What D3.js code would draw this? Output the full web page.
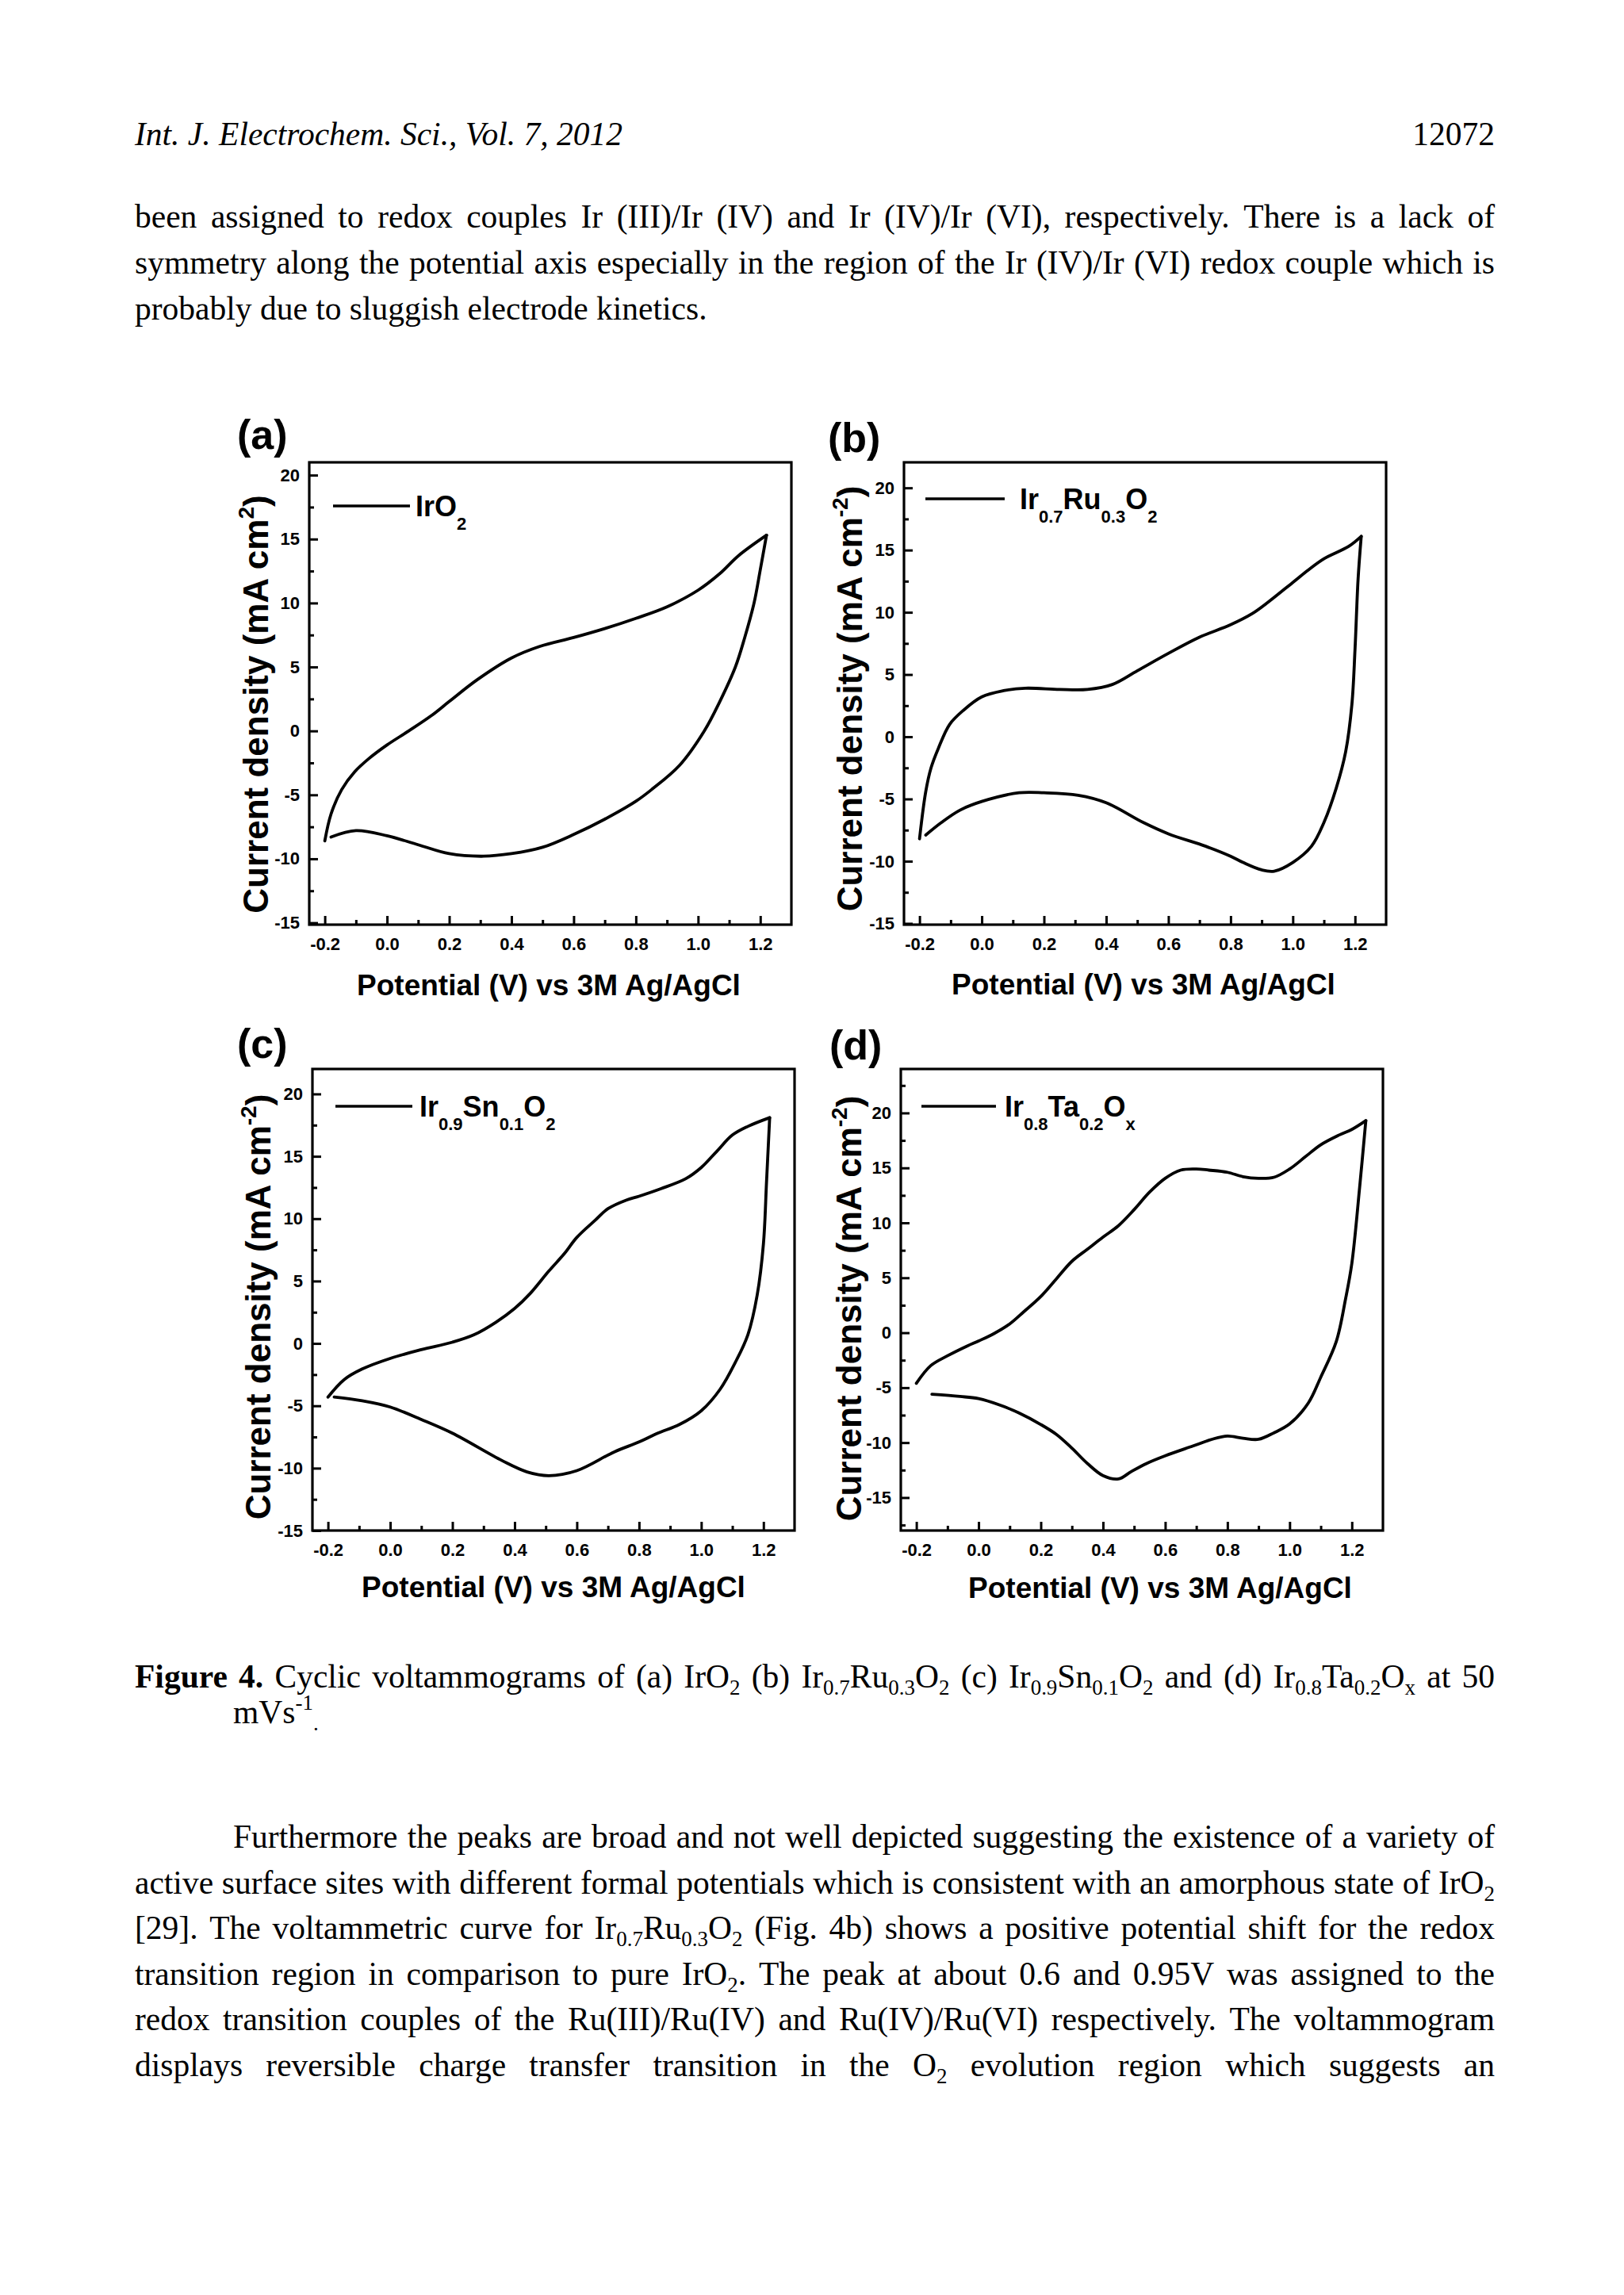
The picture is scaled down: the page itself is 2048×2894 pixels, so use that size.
<!DOCTYPE html>
<html>
<head>
<meta charset="utf-8">
<script src="https://cdn.jsdelivr.net/npm/d3@7"></script>
<style>
  html, body { margin: 0; padding: 0; background: #fff; }
  svg { display: block; }
</style>
</head>
<body>
<svg id="page" width="2048" height="2894"></svg>
<script>
// ---- chart values ----
const xDomain = [-0.25, 1.30];
const xTicks = [-0.2, 0.0, 0.2, 0.4, 0.6, 0.8, 1.0, 1.2];
const xMinor = [-0.1, 0.1, 0.3, 0.5, 0.7, 0.9, 1.1];
const yTicks = [20, 15, 10, 5, 0, -5, -10, -15];
const yMinor = [22.5, 17.5, 12.5, 7.5, 2.5, -2.5, -7.5, -12.5, -17.5];

const yDomainA = [-15.15, 21];
const yDomainB = [-15.1, 22.05];
const yDomainC = [-15, 22];
const yDomainD = [-18, 24];

// (a) IrO2
const irO2Fwd = [[-0.2,-8.6],[-0.18,-6.5],[-0.146,-4.6],[-0.104,-3.2],[-0.06,-2.2],[0,-1.1],[0.07,0],[0.143,1.2],[0.2,2.3],[0.29,4.0],[0.4,5.7],[0.49,6.6],[0.6,7.3],[0.7,8.0],[0.8,8.8],[0.9,9.7],[1.0,11.0],[1.07,12.3],[1.13,13.7],[1.22,15.3]];
const irO2Rev = [[1.22,15.3],[1.2,12.6],[1.18,10.0],[1.15,7.3],[1.12,5.0],[1.07,2.3],[1.02,0],[0.94,-2.7],[0.85,-4.6],[0.8,-5.5],[0.7,-6.9],[0.6,-8.1],[0.5,-9.1],[0.4,-9.6],[0.31,-9.8],[0.2,-9.6],[0.1,-8.9],[0,-8.2],[-0.1,-7.8],[-0.18,-8.3]];

// (b) Ir0.7Ru0.3O2
const irRuFwd = [[-0.2,-8.2],[-0.18,-4.4],[-0.163,-2.5],[-0.139,-0.9],[-0.103,1.0],[-0.06,2.1],[0,3.2],[0.07,3.7],[0.14,3.9],[0.25,3.8],[0.34,3.8],[0.42,4.2],[0.5,5.3],[0.6,6.7],[0.7,8.0],[0.8,9.0],[0.87,9.9],[0.92,10.8],[1.0,12.4],[1.05,13.4],[1.1,14.3],[1.18,15.3],[1.22,16.1]];
const irRuRev = [[1.22,16.1],[1.21,12.7],[1.2,7.0],[1.19,2.6],[1.17,-1.2],[1.14,-4.1],[1.1,-6.9],[1.06,-8.8],[1.0,-10.1],[0.94,-10.8],[0.9,-10.7],[0.84,-10.1],[0.8,-9.6],[0.72,-8.8],[0.6,-7.8],[0.52,-6.9],[0.4,-5.3],[0.31,-4.7],[0.2,-4.5],[0.12,-4.5],[0,-5.2],[-0.07,-5.9],[-0.13,-6.9],[-0.18,-7.9]];

// (c) Ir0.9Sn0.1O2
const irSnFwd = [[-0.2,-4.3],[-0.148,-2.9],[-0.09,-2.05],[0,-1.2],[0.1,-0.5],[0.2,0.1],[0.27,0.7],[0.34,1.7],[0.4,2.8],[0.45,4.0],[0.51,5.8],[0.56,7.2],[0.6,8.5],[0.66,9.9],[0.7,10.8],[0.76,11.5],[0.8,11.8],[0.87,12.4],[0.95,13.2],[1.0,14.1],[1.05,15.4],[1.1,16.7],[1.15,17.4],[1.22,18.1]];
const irSnRev = [[1.22,18.1],[1.21,13.0],[1.2,8.0],[1.18,3.9],[1.15,0.7],[1.11,-1.5],[1.06,-3.7],[1.0,-5.4],[0.93,-6.5],[0.86,-7.2],[0.8,-7.9],[0.72,-8.7],[0.6,-10.2],[0.51,-10.6],[0.44,-10.3],[0.36,-9.4],[0.2,-7.2],[0.1,-6.1],[0,-5.1],[-0.09,-4.6],[-0.18,-4.3]];

// (d) Ir0.8Ta0.2Ox
const irTaFwd = [[-0.2,-4.6],[-0.154,-3.0],[-0.1,-2.1],[-0.036,-1.2],[0,-0.75],[0.048,-0.1],[0.1,0.8],[0.145,1.9],[0.2,3.3],[0.25,4.9],[0.3,6.5],[0.35,7.6],[0.4,8.7],[0.45,9.75],[0.5,11.2],[0.55,12.8],[0.6,14.05],[0.65,14.8],[0.7,14.9],[0.74,14.8],[0.8,14.6],[0.85,14.2],[0.9,14.05],[0.95,14.15],[1.0,14.9],[1.05,16.0],[1.1,17.1],[1.16,18.0],[1.2,18.5],[1.245,19.3]];
const irTaRev = [[1.245,19.3],[1.225,13.2],[1.2,6.3],[1.18,3.1],[1.15,-0.8],[1.1,-4.05],[1.06,-6.4],[1.0,-8.3],[0.95,-9.1],[0.9,-9.7],[0.85,-9.6],[0.8,-9.4],[0.75,-9.7],[0.69,-10.3],[0.6,-11.2],[0.54,-11.9],[0.49,-12.65],[0.45,-13.3],[0.4,-13.0],[0.35,-11.9],[0.3,-10.5],[0.25,-9.25],[0.2,-8.35],[0.13,-7.3],[0.07,-6.6],[0,-6.0],[-0.06,-5.8],[-0.15,-5.6]];

const legendNames = ["IrO_{2}", "Ir_{0.7}Ru_{0.3}O_{2}", "Ir_{0.9}Sn_{0.1}O_{2}", "Ir_{0.8}Ta_{0.2}O_{x}"];
const panelTags = ["(a)", "(b)", "(c)", "(d)"];
const unitExps = ["2", "-2", "-2", "-2"];
const xTitle = "Potential (V) vs 3M Ag/AgCl";

// ---- page text ----
const headerLeft = "Int. J. Electrochem. Sci., Vol. 7, 2012";
const headerRight = "12072";
const para1 = [
  "been assigned to redox couples Ir (III)/Ir (IV) and Ir (IV)/Ir (VI), respectively. There is a lack of",
  "symmetry along the potential axis especially in the region of the Ir (IV)/Ir (VI) redox couple which is",
  "probably due to sluggish electrode kinetics."
];
const caption = [
  "!{Figure} !{4.} Cyclic voltammograms of (a) IrO_{2} (b) Ir_{0.7}Ru_{0.3}O_{2} (c) Ir_{0.9}Sn_{0.1}O_{2} and (d) Ir_{0.8}Ta_{0.2}O_{x} at 50",
  "mVs^{-1}_{.}"
];
const para2 = [
  "Furthermore the peaks are broad and not well depicted suggesting the existence of a variety of",
  "active surface sites with different formal potentials which is consistent with an amorphous state of IrO_{2}",
  "[29]. The voltammetric curve for Ir_{0.7}Ru_{0.3}O_{2} (Fig. 4b) shows a positive potential shift for the redox",
  "transition region in comparison to pure IrO_{2}. The peak at about 0.6 and 0.95V was assigned to the",
  "redox transition couples of the Ru(III)/Ru(IV) and Ru(IV)/Ru(VI) respectively. The voltammogram",
  "displays reversible charge transfer transition in the O_{2} evolution region which suggests an"
];

// ---- layout ----
const SERIF = "'Liberation Serif', 'Times New Roman', serif";
const SANS = "'Liberation Sans', Arial, sans-serif";

const panels = [
  {fwd: irO2Fwd, rev: irO2Rev, yDomain: yDomainA, box: [390, 583, 998, 1166],
   tag: [299, 566], ylab: [338, 888], xlab: [692, 1255], leg: [30, 127, 134, 55]},
  {fwd: irRuFwd, rev: irRuRev, yDomain: yDomainB, box: [1140, 583, 1748, 1166],
   tag: [1044, 570], ylab: [1087, 881], xlab: [1442, 1254], leg: [27, 127, 146, 46]},
  {fwd: irSnFwd, rev: irSnRev, yDomain: yDomainC, box: [394, 1348, 1002, 1930],
   tag: [299, 1334], ylab: [341, 1648], xlab: [698, 2014], leg: [29, 126, 135, 47]},
  {fwd: irTaFwd, rev: irTaRev, yDomain: yDomainD, box: [1136, 1348, 1744, 1930],
   tag: [1046, 1336], ylab: [1086, 1650], xlab: [1463, 2015], leg: [26, 120, 131, 47]}
];

const svg = d3.select("#page");
svg.append("rect").attr("width", 2048).attr("height", 2894).attr("fill", "#fff");

function parseWord(w) {
  const segs = [];
  const re = /_\{([^}]*)\}|\^\{([^}]*)\}|!\{([^}]*)\}|([^_^!]+|[_^!])/g;
  let m;
  while ((m = re.exec(w))) {
    if (m[1] !== undefined) segs.push({t: m[1], sub: true});
    else if (m[2] !== undefined) segs.push({t: m[2], sup: true});
    else if (m[3] !== undefined) segs.push({t: m[3], bold: true});
    else segs.push({t: m[4]});
  }
  return segs;
}

// write segments into a text element, sub/sup by dy shifts
function fillSegs(t, segs, size, subSize, subDy, supDy) {
  let shift = 0;
  segs.forEach(s => {
    const want = s.sub ? subDy : s.sup ? supDy : 0;
    t.append("tspan")
      .attr("dy", want - shift)
      .attr("font-size", (s.sub || s.sup) ? subSize : size)
      .attr("font-weight", s.bold ? "bold" : null)
      .text(s.t);
    shift = want;
  });
}

function textLine(str, o) {
  const words = str.split(/ +/).filter(w => w.length).map(parseWord);
  const g = svg.append("g")
    .attr("font-family", SERIF)
    .attr("font-size", o.size)
    .attr("font-style", o.italic ? "italic" : null)
    .attr("fill", "#000");
  const nodes = words.map(segs => {
    const t = g.append("text").attr("y", o.y);
    fillSegs(t, segs, o.size, o.size * 0.65, o.size * 0.22, -o.size * 0.4);
    return t;
  });
  const widths = nodes.map(t => t.node().getComputedTextLength());
  const total = d3.sum(widths);
  let gap = o.size * 0.25;
  if (o.justify && nodes.length > 1) gap = (o.x1 - o.x0 - total) / (nodes.length - 1);
  let x = o.anchor === "end" ? o.x1 - total - gap * (nodes.length - 1) : o.x0;
  nodes.forEach((t, i) => { t.attr("x", x); x += widths[i] + gap; });
}

// header + first paragraph
const TS = 41.5, L = 170, R = 1885;
textLine(headerLeft, {x0: L, x1: R, y: 183, size: TS, italic: true});
textLine(headerRight, {x0: L, x1: R, y: 183, size: TS, anchor: "end"});
para1.forEach((s, i) => textLine(s, {x0: L, x1: R, y: 287 + i * 58, size: TS, justify: i < para1.length - 1}));

// caption
textLine(caption[0], {x0: L, x1: R, y: 2128, size: TS, justify: true});
textLine(caption[1], {x0: 294, x1: R, y: 2173, size: TS});

// last paragraph
para2.forEach((s, i) => textLine(s, {x0: i === 0 ? 294 : L, x1: R, y: 2330 + i * 57.6, size: TS, justify: true}));

// ---- the four voltammograms ----
panels.forEach((p, k) => {
  const [x0, y0, x1, y1] = p.box;
  const x = d3.scaleLinear().domain(xDomain).range([x0, x1]);
  const y = d3.scaleLinear().domain(p.yDomain).range([y1, y0]);
  const g = svg.append("g").attr("font-family", SANS).attr("fill", "#000");

  // inward major + minor ticks
  const xAxis = g.append("g").attr("transform", `translate(0,${y1})`)
    .call(d3.axisBottom(x).tickValues(xTicks).tickSize(-11).tickPadding(16).tickFormat(d => d.toFixed(1)));
  const xAxisMinor = g.append("g").attr("transform", `translate(0,${y1})`)
    .call(d3.axisBottom(x).tickValues(xMinor).tickSize(-6).tickFormat(""));
  const yVis = yTicks.filter(v => v >= p.yDomain[0] && v <= p.yDomain[1]);
  const yMin = yMinor.filter(v => v >= p.yDomain[0] && v <= p.yDomain[1]);
  const yAxis = g.append("g").attr("transform", `translate(${x0},0)`)
    .call(d3.axisLeft(y).tickValues(yVis).tickSize(-11).tickPadding(12).tickFormat(d => String(d)));
  const yAxisMinor = g.append("g").attr("transform", `translate(${x0},0)`)
    .call(d3.axisLeft(y).tickValues(yMin).tickSize(-6).tickFormat(""));

  [xAxis, xAxisMinor, yAxis, yAxisMinor].forEach(a => {
    a.select(".domain").remove();
    a.attr("font-family", SANS);
    a.selectAll(".tick line").attr("stroke", "#000").attr("stroke-width", 3);
    a.selectAll(".tick text").attr("fill", "#000").attr("font-size", 22).attr("font-weight", "bold");
  });

  g.append("rect")
    .attr("x", x0).attr("y", y0).attr("width", x1 - x0).attr("height", y1 - y0)
    .attr("fill", "none").attr("stroke", "#000").attr("stroke-width", 3.2);

  const line = d3.line().x(d => x(d[0])).y(d => y(d[1])).curve(d3.curveCatmullRom.alpha(0.5));
  [p.fwd, p.rev].forEach(arr => {
    g.append("path").attr("d", line(arr))
      .attr("fill", "none").attr("stroke", "#000").attr("stroke-width", 3.8)
      .attr("stroke-linejoin", "round").attr("stroke-linecap", "round");
  });

  // legend
  const [lx0, lx1, tx, ly] = p.leg;
  g.append("line").attr("x1", x0 + lx0).attr("x2", x0 + lx1).attr("y1", y0 + ly).attr("y2", y0 + ly)
    .attr("stroke", "#000").attr("stroke-width", 3.4);
  const lt = g.append("text").attr("x", x0 + tx).attr("y", y0 + ly + 13).attr("font-weight", "bold").attr("font-size", 36);
  fillSegs(lt, parseWord(legendNames[k]), 36, 22, 17, -14);

  // panel tag
  g.append("text").attr("x", p.tag[0]).attr("y", p.tag[1])
    .attr("font-size", 52).attr("font-weight", "bold").text(panelTags[k]);

  // axis titles
  const yl = g.append("text")
    .attr("transform", `translate(${p.ylab[0]},${p.ylab[1]}) rotate(-90)`)
    .attr("text-anchor", "middle").attr("font-size", 44).attr("font-weight", "bold");
  yl.append("tspan").text("Current density (mA cm");
  yl.append("tspan").attr("dy", -18).attr("font-size", 28).text(unitExps[k]);
  yl.append("tspan").attr("dy", 18).text(")");

  g.append("text").attr("x", p.xlab[0]).attr("y", p.xlab[1])
    .attr("text-anchor", "middle").attr("font-size", 37).attr("font-weight", "bold").text(xTitle);
});
</script>
</body>
</html>
